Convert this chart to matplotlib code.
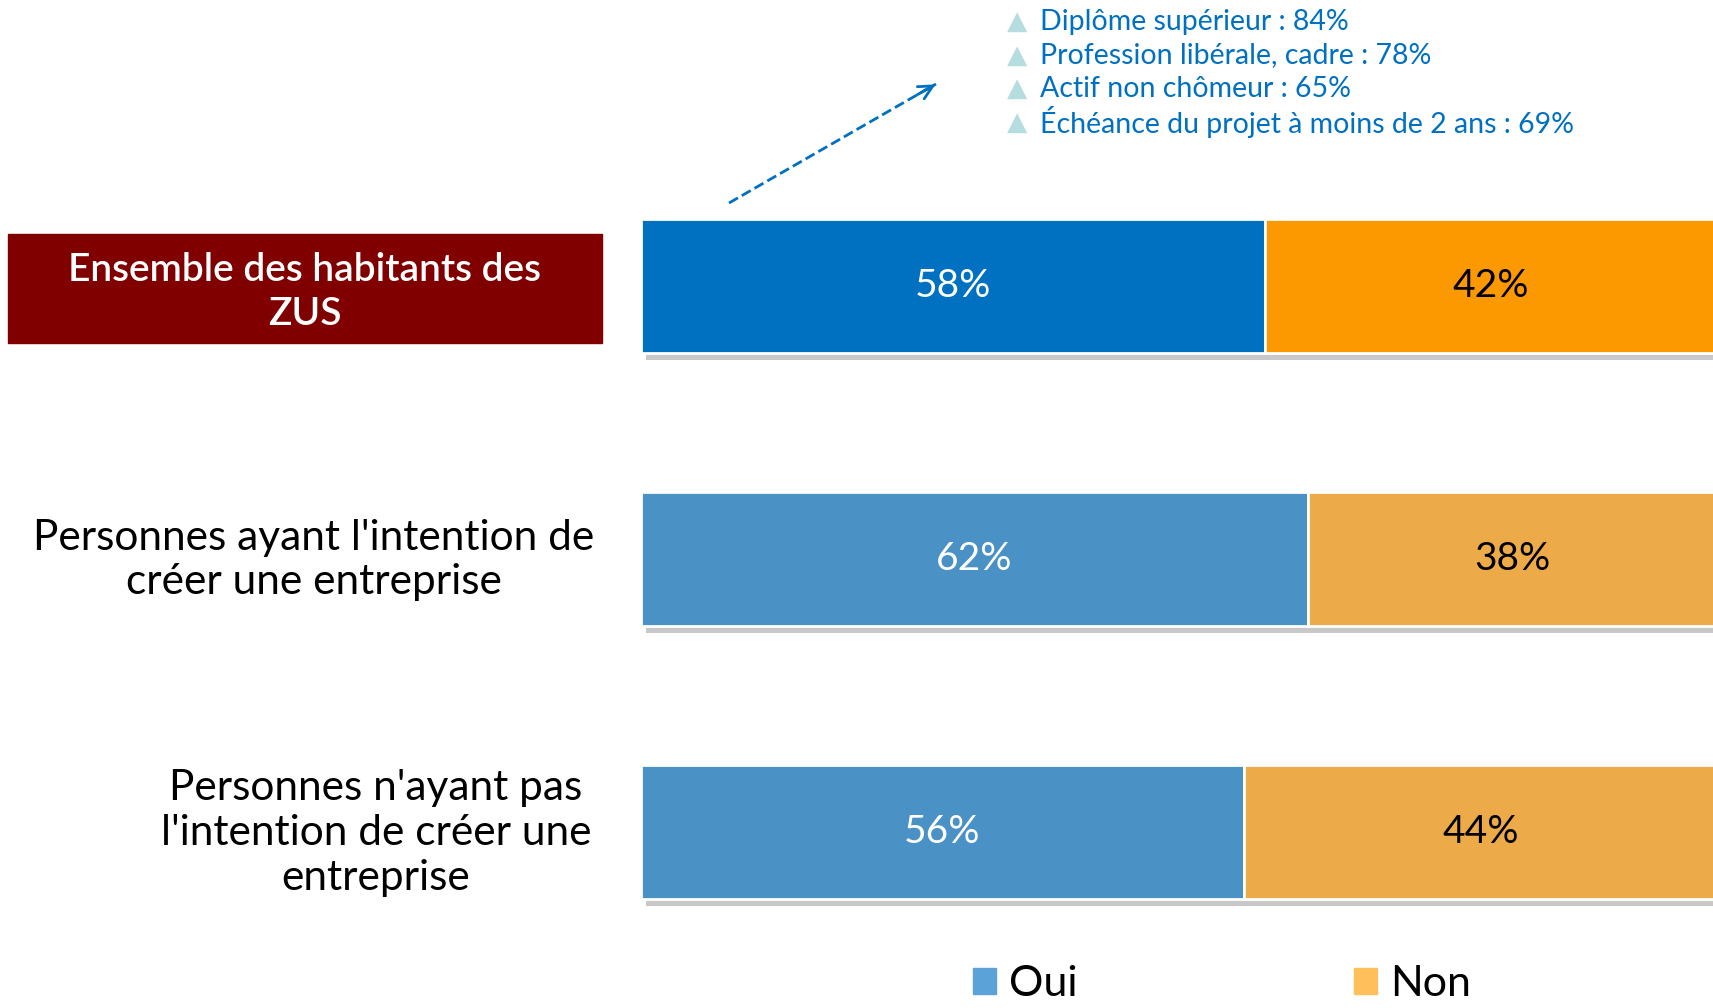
import numpy as np
import matplotlib.pyplot as plt
from matplotlib.patches import Rectangle, Patch

# DATA
groups = ["Ensemble des habitants des\nZUS",
          "Personnes ayant l'intention de\ncréer une entreprise",
          "Personnes n'ayant pas\nl'intention de créer une\nentreprise"]
oui = [58, 62, 56]
non = [42, 38, 44]
oui_colors = ['#0070C0', '#4A91C5', '#4A91C5']
non_colors = ['#FC9800', '#EDAA48', '#EDAA48']
legend_labels = ['Oui', 'Non']
legend_colors = ['#5BA2D8', '#FFBF5A']
notes = ["Diplôme supérieur : 84%",
         "Profession libérale, cadre : 78%",
         "Actif non chômeur : 65%",
         "Échéance du projet à moins de 2 ans : 69%"]

W, H = 1713, 1008
narrow = ['Liberation Sans Narrow', 'Lato', 'DejaVu Sans']
humanist = ['Lato', 'DejaVu Sans']

fig = plt.figure(figsize=(W / 100, H / 100), dpi=100)

def fx(px):
    return px / W

def fy(py):
    return 1 - py / H

# bar axes: pixel rows 150..950, bar centres at 287 + 273*i
top_px, bot_px = 150, 950
step = 273.0
ax = fig.add_axes([fx(641), fy(bot_px), fx(1717 - 641), (bot_px - top_px) / H])
ax.set_xlim(0, 100)
ax.set_ylim((bot_px - 286) / step, (top_px - 286) / step)
ax.axis('off')

y = np.arange(len(groups))
bh = 134 / step
# shadow
ax.barh(y + 7 / step, np.array(oui) + np.array(non), left=0.5, height=bh,
        color='#c8c8c8', zorder=1)
ax.barh(y, oui, height=bh, color=oui_colors, edgecolor='white', lw=2, zorder=2)
ax.barh(y, non, left=oui, height=bh, color=non_colors, edgecolor='white', lw=2, zorder=2)
for i in range(len(groups)):
    ax.text(oui[i] / 2, y[i], f"{oui[i]}%", ha='center', va='center',
            color='white', fontsize=28, family=narrow, zorder=3)
    ax.text(oui[i] + non[i] / 2, y[i], f"{non[i]}%", ha='center', va='center',
            color='black', fontsize=28, family=narrow, zorder=3)

# row labels
label_x = [305, 314, 376]
for i, lab in enumerate(groups):
    yc = 287 + step * i
    if i == 0:
        fig.patches.append(Rectangle((fx(8), fy(343)), fx(594), (343 - 234) / H,
                                     transform=fig.transFigure, color='#800000'))
        fig.text(fx(label_x[i]), fy(yc + 5), lab, ha='center', va='center', color='white',
                 fontsize=28, fontweight='semibold', family=humanist, linespacing=1.3)
    else:
        fig.text(fx(label_x[i]), fy(yc), lab, ha='center', va='center', color='black',
                 fontsize=30.5, family=humanist, linespacing=1.22)

# notes with triangles
for k, s in enumerate(notes):
    yy = 22 + 33.5 * k
    fig.text(fx(1017), fy(yy), '▲', ha='center', va='center', color='#B5DDDF',
             fontsize=19, family=['DejaVu Sans'])
    fig.text(fx(1040), fy(yy), s, ha='left', va='center', color='#0070C0',
             fontsize=20.5, family=humanist)

fig.add_artist(plt.Line2D([fx(729), fx(936)], [fy(203), fy(84)], color='#0070C0',
                          lw=2, ls='--', transform=fig.transFigure))
ax.annotate('', xy=(fx(938), fy(83)), xytext=(fx(915), fy(96)),
            xycoords='figure fraction', textcoords='figure fraction',
            arrowprops=dict(arrowstyle='->', color='#0070C0', lw=2, mutation_scale=25))

handles = [Patch(color=c) for c in legend_colors]
fig.legend(handles, legend_labels, loc='center', bbox_to_anchor=(fx(1222), fy(984)),
           ncol=2, frameon=False, columnspacing=6.4, handlelength=0.55, handleheight=0.55,
           handletextpad=0.3, borderpad=0.1, prop={'family': narrow, 'size': 31})

fig.savefig('out.png', dpi=100)
